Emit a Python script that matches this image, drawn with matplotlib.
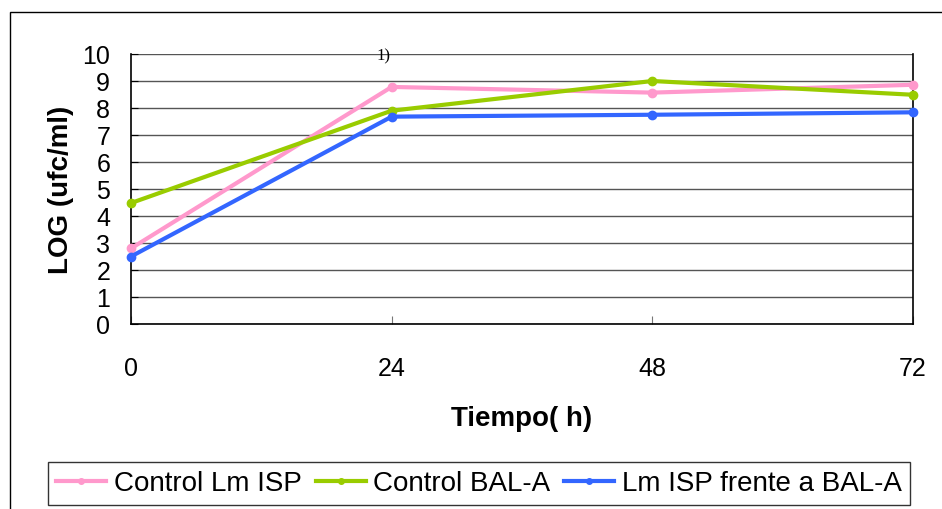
import matplotlib
matplotlib.use("Agg")
import matplotlib.pyplot as plt
from matplotlib.patches import Rectangle
from matplotlib.lines import Line2D

plt.rcParams['font.family'] = ['Liberation Sans', 'DejaVu Sans']

hours = [0, 24, 48, 72]
control_lm_isp = [2.8, 8.78, 8.57, 8.86]
control_bal_a = [4.48, 7.9, 9.0, 8.49]
lm_isp_frente_bal_a = [2.5, 7.68, 7.75, 7.84]
series_names = ["Control Lm ISP", "Control BAL-A", "Lm ISP frente a BAL-A"]
series_colors = ["#FF99CC", "#99CC00", "#3366FF"]
y_ticks = list(range(0, 11))

fig = plt.figure(figsize=(9.42, 5.10), dpi=100)
ax = fig.add_axes([131/942, 1 - 325/510, (913-131)/942, (325-55)/510])

for vals, name, col in zip([control_lm_isp, control_bal_a, lm_isp_frente_bal_a], series_names, series_colors):
    ax.plot(hours, vals, color=col, lw=3, marker='o', ms=6, label=name, zorder=3, clip_on=False)

ax.set_xlim(0, 72)
ax.set_ylim(0, 10)
ax.set_xticks(hours)
ax.set_yticks(y_ticks)
ax.grid(axis='y', color='#555555', lw=1)
ax.set_axisbelow(True)
ax.tick_params(axis='y', direction='in', length=5, pad=15, labelsize=18)
ax.tick_params(axis='x', direction='in', length=6, pad=23, labelsize=18, color='#777777')
for s in ['left', 'bottom', 'right']:
    ax.spines[s].set_color('black')
    ax.spines[s].set_linewidth(1.2)
ax.spines['top'].set_visible(False)

ax.set_ylabel("LOG (ufc/ml)", fontsize=20, fontweight='bold', labelpad=6)
ax.set_xlabel("Tiempo( h)", fontsize=20, fontweight='bold', labelpad=18)

fig.text(383/942, 1 - 56/510, "1)", family='Liberation Serif', fontsize=12, ha='center', va='center')

# outer frame
fig.patches.append(Rectangle((10/942, -0.5), 2.0, 0.5 + 1 - 13/510, transform=fig.transFigure,
                             fill=False, edgecolor='black', lw=1))

handles = [Line2D([], [], color=c, lw=3, marker='o', ms=4) for c in series_colors]
leg = fig.legend(handles, series_names, loc='center', ncol=3,
                 bbox_to_anchor=(479/942, 1 - 484.5/510), fontsize=20,
                 frameon=True, fancybox=False, edgecolor='black', handlelength=1.8,
                 handletextpad=0.28, columnspacing=0.5, borderpad=0.3, borderaxespad=0)
leg.get_frame().set_linewidth(1)

fig.savefig("out.png", dpi=100)
